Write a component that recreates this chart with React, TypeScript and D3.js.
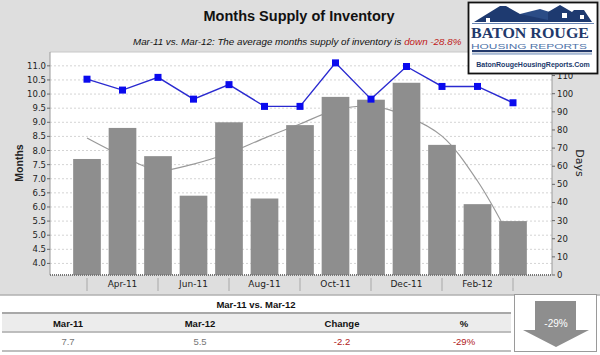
import React from "react";
import * as d3 from "d3";

const months = ["Mar-11","Apr-11","May-11","Jun-11","Jul-11","Aug-11","Sep-11","Oct-11","Nov-11","Dec-11","Jan-12","Feb-12","Mar-12"];
const supply = [7.7, 8.8, 7.8, 6.4, 9.0, 6.3, 8.9, 9.9, 9.8, 10.4, 8.2, 6.1, 5.5];
const days = [108, 102, 109, 97, 105, 93, 93, 117, 97, 115, 104, 104, 95];
const trend = [8.44, 7.8, 7.3, 7.52, 7.91, 8.44, 8.94, 9.43, 9.57, 9.22, 8.51, 6.92, 4.7];
const leftTicks = [4.0, 4.5, 5.0, 5.5, 6.0, 6.5, 7.0, 7.5, 8.0, 8.5, 9.0, 9.5, 10.0, 10.5, 11.0];
const rightTicks = [0, 10, 20, 30, 40, 50, 60, 70, 80, 90, 100, 110];
const shownLabels = ["Apr-11", "Jun-11", "Aug-11", "Oct-11", "Dec-11", "Feb-12"];
const tableHead = ["Mar-11", "Mar-12", "Change", "%"];
const tableVals = ["7.7", "5.5", "-2.2", "-29%"];

const SANS = "'Liberation Sans', Arial, sans-serif";

export default function App() {
  const W = 600, H = 355;
  const pl = 50, pr = 552, pt = 52, pb = 275;
  const x = d3.scaleBand<string>().domain(months).range([69.25, 530.75]).paddingInner(0.22).paddingOuter(0.11);
  const yL = d3.scaleLinear().domain([3.59, 11.49]).range([pb, pt]);
  const yR = d3.scaleLinear().domain([0, 123]).range([pb, pt]);
  const cx = (m: string) => (x(m) as number) + x.bandwidth() / 2;

  const blueLine = d3.line<number>().x((_, i) => cx(months[i])).y((d) => yR(d));
  const trendLine = d3.line<number>().x((_, i) => cx(months[i])).y((d) => yL(d)).curve(d3.curveCatmullRom.alpha(0.5));

  const colCenters = [68, 200, 342, 464];

  return (
    <svg width={W} height={H} style={{ position: "absolute", left: 0, top: 0, background: "#fff" }}>
      {/* background */}
      <rect x={0} y={0} width={W} height={295} fill="#dedede" />
      <line x1={0} x2={W} y1={295} y2={295} stroke="#b0b0b0" strokeWidth={1.5} />
      {/* title */}
      <text x={299} y={21} textAnchor="middle" fontFamily={SANS} fontWeight="bold" fontSize={14.5} fill="#111">Months Supply of Inventory</text>
      <text x={133} y={45} fontFamily={SANS} fontStyle="italic" fontSize={9.8} fill="#111">
        Mar-11 vs. Mar-12: The average months supply of inventory is <tspan fill="#c01818">down -28.8%</tspan>
      </text>
      {/* plot area */}
      <rect x={pl} y={pt} width={pr - pl} height={pb - pt} fill="#fff" />
      {leftTicks.map((t) => (
        <line key={"g" + t} x1={pl} x2={pr} y1={yL(t)} y2={yL(t)} stroke="#d4d4d4" strokeDasharray="2,2" strokeWidth={1} />
      ))}
      <line x1={pl} x2={pr} y1={pt} y2={pt} stroke="#c8c8c8" />
      <line x1={pl} x2={pl} y1={pt} y2={pb} stroke="#9a9a9a" />
      <line x1={pr} x2={pr} y1={pt} y2={pb} stroke="#9a9a9a" />
      {/* trend */}
      <path d={trendLine(trend) || ""} fill="none" stroke="#9a9a9a" strokeWidth={1.2} />
      {/* bars */}
      {supply.map((v, i) => (
        <rect key={"b" + i} x={x(months[i])} y={yL(v)} width={x.bandwidth()} height={pb - yL(v)} fill="#8e8e8e" />
      ))}
      {/* blue line */}
      <path d={blueLine(days) || ""} fill="none" stroke="#2a2ad0" strokeWidth={1.4} />
      {days.map((d, i) => (
        <rect key={"m" + i} x={cx(months[i]) - 3.5} y={yR(d) - 3.5} width={7} height={7} fill="#0a0aee" />
      ))}
      {/* bottom axis */}
      <line x1={pl} x2={pr} y1={pb} y2={pb} stroke="#777" strokeWidth={2} strokeDasharray="1,1" />
      {months.map((m, i) =>
        i % 2 === 0 ? (
          <line key={"s" + i} x1={cx(m)} x2={cx(m)} y1={278} y2={291} stroke="#a8a8a8" />
        ) : null
      )}
      {months.map((m) =>
        shownLabels.includes(m) ? (
          <text key={"l" + m} x={cx(m)} y={287} textAnchor="middle" fontFamily="'DejaVu Sans', sans-serif" fontSize={9} fill="#222">{m}</text>
        ) : null
      )}
      {/* left axis */}
      {leftTicks.map((t) => (
        <g key={"lt" + t}>
          <line x1={pl - 3} x2={pl} y1={yL(t)} y2={yL(t)} stroke="#666" />
          <text x={pl - 4} y={yL(t) + 3} textAnchor="end" fontFamily="'DejaVu Sans', sans-serif" fontSize={8.5} fill="#222">{t.toFixed(1)}</text>
        </g>
      ))}
      <text transform="translate(23,163) rotate(-90)" textAnchor="middle" fontFamily={SANS} fontWeight="bold" fontSize={10.5} fill="#222">Months</text>
      {/* right axis */}
      {rightTicks.map((t) => (
        <g key={"rt" + t}>
          <line x1={pr} x2={pr + 3} y1={yR(t)} y2={yR(t)} stroke="#666" />
          <text x={pr + 5} y={yR(t) + 3} textAnchor="start" fontFamily="'DejaVu Sans', sans-serif" fontSize={8.5} fill="#222">{t}</text>
        </g>
      ))}
      <text transform="translate(576,163) rotate(90)" textAnchor="middle" fontFamily="'DejaVu Sans', sans-serif" fontSize={11} fill="#222">Days</text>

      {/* logo */}
      <g>
        <rect x={468.5} y={2.5} width={129} height={71} fill="#fff" stroke="#111" strokeWidth={1.8} />
        <polygon points="474,22 500,6 506,6 520,14 548,14 548,22" fill="#1e3a70" />
        <polygon points="520,14 540,9 556,14 548,20" fill="#2b4c86" />
        <polygon points="548,22 548,12 560,5 572,12 574,10 584,10 592,22" fill="#1e3a70" />
        <rect x={486} y={18} width={4} height={4} fill="#fff" />
        <rect x={562} y={13} width={5} height={5} fill="#fff" />
        <rect x={580} y={15} width={4} height={4} fill="#fff" />
        <line x1={472} x2={594} y1={23.5} y2={23.5} stroke="#6a86b4" strokeWidth={1.2} />
        <text x={471} y={38} textLength={118} lengthAdjust="spacingAndGlyphs" fontFamily="'Liberation Serif', 'DejaVu Serif', serif" fontWeight="bold" fontSize={15} fill="#22396b">BATON ROUGE</text>
        <text x={471} y={48.5} textLength={116} lengthAdjust="spacingAndGlyphs" fontFamily={SANS} fontSize={8} fill="#4d72a8">HOUSING REPORTS</text>
        <rect x={472} y={50} width={120} height={2.2} fill="#22396b" />
        <rect x={472} y={53.5} width={120} height={0.9} fill="#4d72a8" />
        <text x={533} y={67} textAnchor="middle" fontFamily={SANS} fontWeight="bold" fontSize={7} fill="#22396b">BatonRougeHousingReports.Com</text>
      </g>

      {/* bottom table */}
      <text x={256} y={308} textAnchor="middle" fontFamily={SANS} fontWeight="bold" fontSize={9.5} fill="#111">Mar-11 vs. Mar-12</text>
      <rect x={2} y={313.5} width={509} height={18} fill="#ececec" />
      <line x1={2} x2={511} y1={313} y2={313} stroke="#a8a8a8" strokeWidth={2} />
      <line x1={2} x2={511} y1={332} y2={332} stroke="#a8a8a8" strokeWidth={1.5} />
      <line x1={2} x2={511} y1={351} y2={351} stroke="#a8a8a8" strokeWidth={1.5} />
      {tableHead.map((h, i) => (
        <text key={"h" + i} x={colCenters[i]} y={327} textAnchor="middle" fontFamily={SANS} fontWeight="bold" fontSize={9.5} fill="#111">{h}</text>
      ))}
      {tableVals.map((v, i) => (
        <text key={"v" + i} x={colCenters[i]} y={345} textAnchor="middle" fontFamily={SANS} fontSize={9.5} fill={i >= 2 ? "#b02020" : "#777"}>{v}</text>
      ))}
      {/* arrow box */}
      <rect x={514.5} y={294.5} width={82} height={57} fill="#fff" stroke="#9a9a9a" />
      <polygon points="535,301 576,301 576,330 589,330 556,347 523,330 535,330" fill="#8e8e8e" />
      <text x={556} y={327} textAnchor="middle" fontFamily={SANS} fontSize={10} fill="#fff">-29%</text>
    </svg>
  );
}
